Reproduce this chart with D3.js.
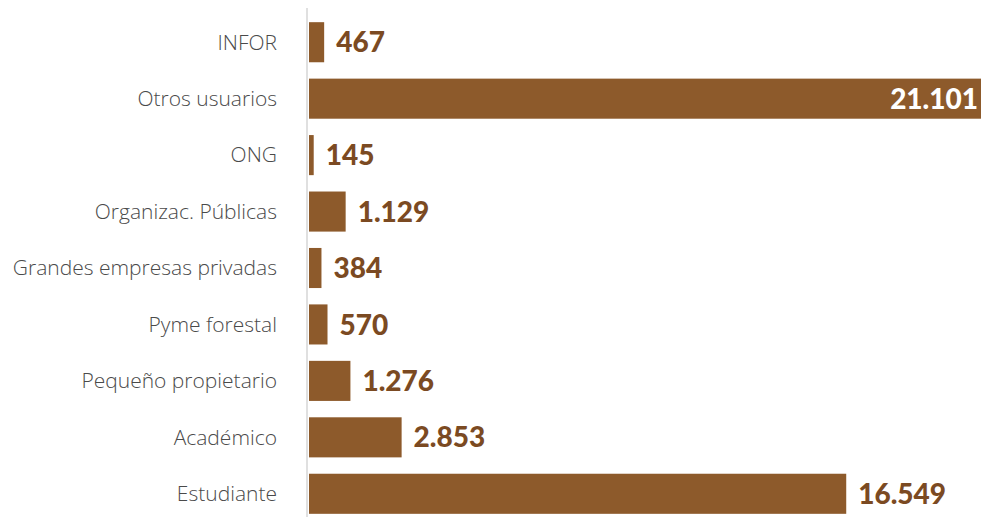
<!DOCTYPE html>
<html><head><meta charset="utf-8">
<script src="https://cdn.jsdelivr.net/npm/d3@7"></script>
<style>body{margin:0;background:#fff}svg{display:block}</style>
</head><body>
<svg id="c" width="981" height="517"></svg>
<script>
const categories = ["INFOR","Otros usuarios","ONG","Organizac. Públicas","Grandes empresas privadas","Pyme forestal","Pequeño propietario","Académico","Estudiante"];
const values = [467,21101,145,1129,384,570,1276,2853,16549];

const W = 981;
const svg = d3.select("#c");
const x0 = 309;
const x = d3.scaleLinear().domain([0, 21101]).range([x0, 994]);
const y = d3.scaleBand().domain(categories).range([14, 522]).paddingInner(0.29).paddingOuter(0.145);
const fmt = v => d3.format(",")(v).replace(/,/g, ".");

svg.append("line").attr("x1",307).attr("x2",307).attr("y1",8).attr("y2",517)
  .attr("stroke","#d6d6d6").attr("stroke-width",1.5);

svg.selectAll("rect.bar").data(values).join("rect").attr("class","bar")
  .attr("x", x0).attr("y",(d,i)=>y(categories[i]))
  .attr("width", d=>x(d)-x0).attr("height", y.bandwidth())
  .attr("fill","#8d5a2b");

svg.selectAll("text.cat").data(categories).join("text").attr("class","cat")
  .attr("x",277).attr("y",d=>y(d)+y.bandwidth()/2).attr("dy","0.35em")
  .attr("text-anchor","end").attr("font-family","Open Sans").attr("font-weight",300)
  .attr("font-size",21).attr("fill","#4a4a4a").text(d=>d);

svg.selectAll("text.val").data(values).join("text").attr("class","val")
  .attr("x",(d)=> x(d) > W ? W-3 : x(d)+12)
  .attr("y",(d,i)=>y(categories[i])+y.bandwidth()/2).attr("dy","0.36em")
  .attr("text-anchor",d=> x(d) > W ? "end" : "start")
  .attr("font-family","Lato").attr("font-weight",900).attr("font-size",28)
  .attr("fill",d=> x(d) > W ? "#ffffff" : "#7b4a22").text(fmt);
</script>
</body></html>
